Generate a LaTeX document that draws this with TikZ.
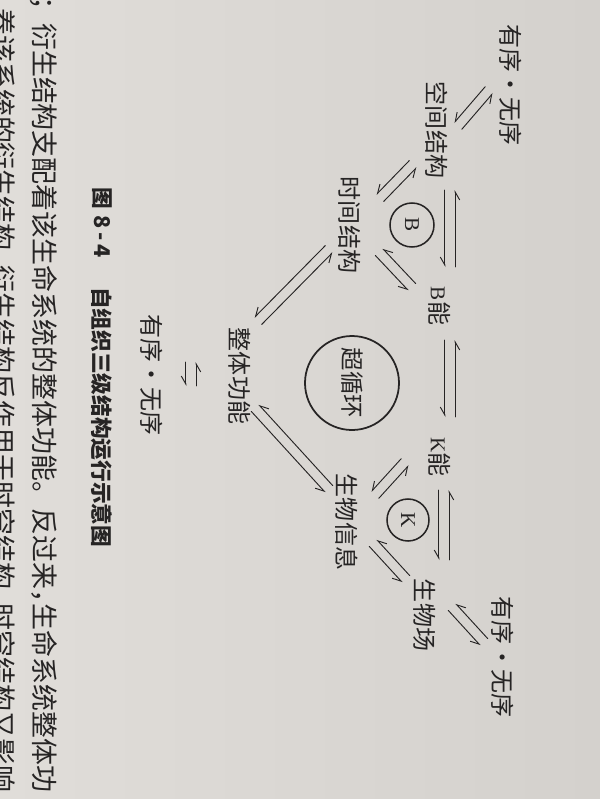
\documentclass[tikz,border=0pt]{standalone}
\usepackage{fontspec}
\setmainfont{Liberation Serif}
\newfontfamily\cjk{Noto Sans CJK SC}
\usetikzlibrary{arrows.meta,calc}
\definecolor{ink}{RGB}{38,36,36}
\definecolor{paperL}{RGB}{224,221,217}
\definecolor{paperR}{RGB}{212,209,205}
\newcommand\eqpair[2]{%
  \draw[harp] ($(#1)!4.3pt!-90:(#2)$) -- ($(#2)!4.3pt!90:(#1)$);
  \draw[harp] ($(#2)!4.3pt!-90:(#1)$) -- ($(#1)!4.3pt!90:(#2)$);
}
\begin{document}
\begin{tikzpicture}[x=0.03cm,y=0.03cm,
  lbl/.style={rotate=-90,inner sep=0,text=ink,font=\cjk\fontsize{20.5}{20.5}\selectfont},
  latin/.style={font=\rmfamily\fontsize{18}{18}\selectfont},
  body/.style={rotate=-90,inner sep=0,anchor=west,text=ink,font=\cjk\fontsize{23}{23}\selectfont},
  capt/.style={rotate=-90,inner sep=0,anchor=west,text=ink,font=\cjk\bfseries\fontsize{18.5}{18.5}\selectfont},
  harp/.style={draw=ink,line width=0.8pt,line cap=round,-{Straight Barb[right,length=7pt,width=8pt]}},
  ring/.style={draw=ink,line width=1.3pt,circle,inner sep=0,rotate=-90,text=ink}]
\useasboundingbox (0,0) rectangle (600,-799);
\clip (0,0) rectangle (600,-799);
\shade[left color=paperL,right color=paperR] (0,0) rectangle (600,-799);

% body text (page text beside the figure)
\node[body] (t2) at (2,-8) {养该系统的衍生结构，\hspace{-.45em}衍生结构反作用于时空结构，\hspace{-.45em}时空结构又影响};
\node[body] (t1) at (44,31) {）；衍生结构支配着该生命系统的整体功能。反过来，\hspace{-.45em}生命系统整体功};

% caption
\node[capt] (cap1) at (102,-187) {图\hspace{6pt}8\hspace{3pt}-\hspace{3pt}4};
\node[capt] (cap2) at (102,-287) {自组织三级结构运行示意图};

% labels
\node[lbl] (oTop) at (511,-85) {有序·无序};
\node[lbl] (kj) at (437,-130) {空间结构};
\node[lbl] (sj) at (350,-225) {时间结构};
\node[lbl] (Bn) at (440,-306) {{\rmfamily\fontsize{18}{18}\selectfont B}能};
\node[lbl] (Kn) at (440,-457) {{\rmfamily\fontsize{18}{18}\selectfont K}能};
\node[lbl] (swc) at (425,-615) {生物场};
\node[lbl] (oR) at (503,-657) {有序·无序};
\node[lbl] (swx) at (347,-522) {生物信息};
\node[lbl] (zt) at (240,-376) {整体功能};
\node[lbl] (oL) at (152,-375) {有序·无序};

% circles
\node[ring,latin,minimum size=1.32cm] (cB) at (412,-225) {B};
\node[ring,latin,minimum size=1.26cm] (cK) at (408,-520) {K};
\node[ring,line width=1.5pt,minimum size=2.82cm,font=\cjk\fontsize{20}{20}\selectfont] (cC) at (352,-383) {超循环};

% connector end points
\coordinate (a1) at (489,-90);  \coordinate (b1) at (458,-126);
\coordinate (a2) at (413,-164); \coordinate (b2) at (380,-198);
\coordinate (a3) at (379,-252); \coordinate (b3) at (412,-287);
\coordinate (a4) at (450,-190); \coordinate (b4) at (450,-267);
\coordinate (a5) at (450,-340); \coordinate (b5) at (450,-417);
\coordinate (a6) at (444,-490); \coordinate (b6) at (444,-560);
\coordinate (a7) at (452,-607); \coordinate (b7) at (484,-642);
\coordinate (a8) at (405,-462); \coordinate (b8) at (375,-495);
\coordinate (a9) at (373,-543); \coordinate (b9) at (406,-579);
\coordinate (a10) at (329,-249); \coordinate (b10) at (258,-321);
\coordinate (a11) at (255,-408); \coordinate (b11) at (329,-489);
\coordinate (a12) at (191,-362); \coordinate (b12) at (191,-386);

\eqpair{a1}{b1}
\eqpair{a2}{b2}
\eqpair{a3}{b3}
\eqpair{a4}{b4}
\eqpair{a5}{b5}
\eqpair{a6}{b6}
\eqpair{a7}{b7}
\eqpair{a8}{b8}
\eqpair{a9}{b9}
\eqpair{a10}{b10}
\eqpair{a11}{b11}
\eqpair{a12}{b12}
\end{tikzpicture}
\end{document}
